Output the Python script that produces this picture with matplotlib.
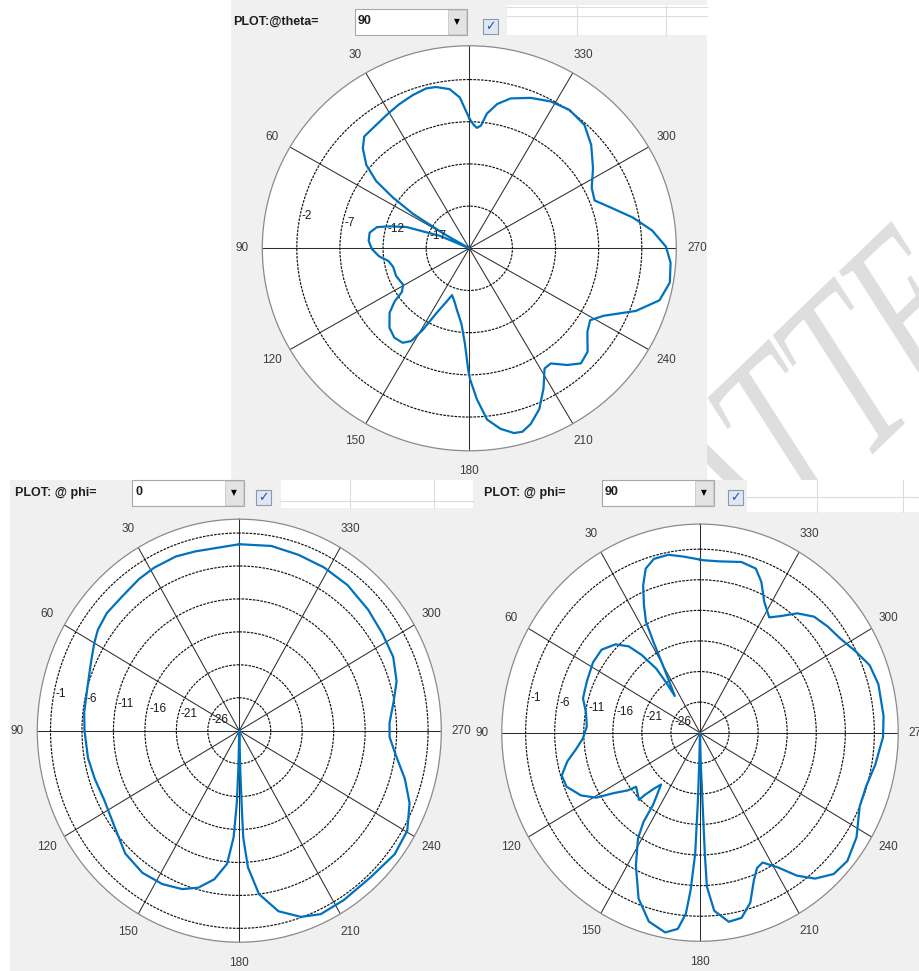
import numpy as np
import matplotlib.pyplot as plt
from matplotlib.patches import Rectangle, PathPatch
from matplotlib.lines import Line2D
from matplotlib.textpath import TextPath, TextToPath
from matplotlib.font_manager import FontProperties
from matplotlib.transforms import Affine2D, offset_copy

W, H = 919, 971

# ---- pattern cut at theta = 90 (angle in deg, gain in dB) ----
theta90_ang = [0, 3.5, 6.9, 11.4, 14.8, 19.9, 25.6, 31, 38.3, 42.6, 46.2, 50.4, 53.6,
               55.8, 58, 60, 63, 66.6, 70.9, 74.1, 76.8, 80.9, 85.7, 90.4, 95.2, 99.1,
               103.9, 111.1, 119.5, 123.6, 126, 129.6, 135.5, 140.6, 145.4, 148.5, 150.8,
               153.6, 157.2, 160.2, 165.1, 169.1, 174.2, 177.4, 179.5, 180.3, 182.8, 185.8,
               189.6, 193.3, 195.8, 198.9, 203.1, 207.4, 211.5, 214.7, 219.4, 223.5, 228.2,
               234.1, 238.7, 242.8, 249, 254.4, 260.1, 265.8, 270.5, 275.7, 280.9, 286.7,
               291.3, 296.8, 303.5, 310.9, 317.6, 324.7, 331.5, 338.2, 344.9, 349.3, 352.7,
               354.7, 356.5, 358.2, 360]
theta90_db = [-6.6, -4.1, -3.0, -2.5, -2.4, -2.7, -3.1, -3.5, -3.9, -4.0, -4.9, -6.5, -8.6,
              -11.3, -14.3, -19.0, -30, -18.3, -14.3, -12.5, -11.0, -10.3, -10.3, -10.7, -11.5,
              -12.5, -12.9, -12.9, -13.2, -12.6, -11.3, -10.0, -8.8, -8.3, -8.4, -9.1, -10.9,
              -13.4, -15.1, -16.1, -15.4, -14.5, -13.0, -10.7, -7.6, -6.5, -4.1, -1.6,
              -0.3, 0.5, 0.6, 0.0, -1.3, -3.3, -5.3, -5.4, -4.1, -3.2, -3.6,
              -5.1, -5.6, -4.5, -1.3, 0.9, 1.6, 1.4, 0.8, -0.7, -2.7, -5.0,
              -6.4, -6.1, -4.8, -3.3, -2.2, -1.9, -2.2, -2.8, -3.6, -4.6, -5.9,
              -7.4, -7.7, -7.3, -6.6]

# ---- pattern cut at phi = 0 ----
phi0_ang = [0, 6, 14.5, 20.9, 28.6, 34.6, 42.4, 49.7, 55.7, 60.1, 66.7, 75, 83.6, 90,
            99.8, 107.7, 115.9, 126.3, 135.8, 144.5, 152.3, 159.3, 164.7, 170, 174.5,
            176.8, 177.9, 178.5, 180, 181.5, 181.9, 182.2, 183.8, 187.2, 192.8, 199.1,
            204.9, 212.9, 223.2, 232.8, 240.4, 247.9, 254.5, 261.7, 267.7, 272.8, 280.1,
            286.7, 294.6, 303.1, 311.9, 322.1, 331.5, 340.6, 349.7, 360]
phi0_db = [-2.7, -3.0, -2.9, -2.7, -2.8, -3.0, -3.4, -3.4, -3.8, -4.4, -5.3, -6.0, -6.2, -6.4,
           -6.6, -6.9, -7.1, -6.4, -5.0, -4.5, -4.7, -5.3, -6.3, -8.1, -10.7,
           -14.8, -19.9, -25, -40, -25, -19.9, -14.8, -10.2, -6.0, -2.9, -1.1,
           -0.3, -0.4, -0.5, 0.0, -0.3, -1.8, -3.7, -5.9, -7.1, -7.1, -6.1,
           -4.9, -4.1, -3.9, -3.5, -3.0, -2.8, -2.7, -2.5, -2.7]

# ---- pattern cut at phi = 90 ----
phi90_ang = [0, 5.4, 10.6, 15.6, 19.2, 22.1, 24.8, 27.1, 28.4, 30.1, 35.8, 35.4, 35.7, 38.3,
             41, 45.2, 51.3, 58, 66.6, 74.4, 80.4, 87, 92.8, 97.2, 101.6, 106.4, 111,
             116.6, 120.7, 123.8, 127.2, 128.8, 136.3, 137, 139.1, 141.7, 145.6, 146.3,
             148.3, 153, 158.7, 164.1, 169.6, 173.2, 175.3, 176.4, 177.6, 178.1, 178.6,
             180, 181.4, 182.2, 182.4, 182.7, 184.8, 189.1, 193.3, 197.3, 200.8, 203.9,
             206.9, 211.2, 215.5, 219.7, 224.9, 230.4, 237.6, 246.3, 253.1, 260.1, 268.7,
             275, 284.5, 290.7, 296.4, 302.7, 308.3, 314, 319.4, 323.9, 327.7, 332.7,
             336.8, 340.3, 345.7, 353.3, 358.9, 360]
phi90_db = [-2.7, -2.1, -1.4, -1.5, -2.6, -5.0, -8.0, -10.6, -14.2, -18.3, -23.6, -20.9, -18.1,
            -14.8, -12.3, -10.5, -9.3, -9.3, -9.8, -10.1, -11.1, -11.5, -10.8, -9.5, -7.7,
            -6.2, -6.4, -8.1, -10.2, -13.3, -15.4, -16.9, -15.8, -17.1, -18.9, -20.2, -16.7,
            -13.5, -10.7, -6.7, -1.9, 1.1, 2.2, 1.3, -1.3, -5.2, -11.2, -19.4, -26.5,
            -40, -26.5, -19.4, -11.2, -5.8, -1.8, 0.3, 0.1, -1.9, -5.0, -6.8,
            -7.2, -5.3, -2.3, 0.0, 1.6, 1.9, 0.9, -1.0, -1.1, -0.4, 0.5,
            0.7, 0.7, 0.2, -1.1, -2.4, -3.0, -3.7, -5.3, -7.4, -8.7, -6.9,
            -4.2, -2.5, -2.2, -2.8, -2.8, -2.7]

top_rings = [-17, -12, -7, -2]
bottom_rings = [-26, -21, -16, -11, -6, -1]
angle_labels = list(range(30, 360, 30))

BLUE = '#0072bd'
PANEL = '#f0f0f0'


def px_rect(x0, y0, x1, y1):
    return (x0 / W, 1 - y1 / H, (x1 - x0) / W, (y1 - y0) / H)


def box(fig, x0, y0, x1, y1, z=-5, **kw):
    l, b, w, h = px_rect(x0, y0, x1, y1)
    fig.patches.append(Rectangle((l, b), w, h, transform=fig.transFigure,
                                 figure=fig, zorder=z, **kw))


def line(fig, xs, ys, **kw):
    fig.add_artist(Line2D([x / W for x in xs], [1 - y / H for y in ys],
                          transform=fig.transFigure, **kw))


def ftext(fig, x, y, s, **kw):
    fig.text(x / W, 1 - y / H, s, **kw)


def watermark(fig, word, size, stretch, slant, angle, bar_xy):
    # stretched, slanted serif word lying behind the screenshots;
    # bar_xy is where the top bar of the second letter should sit
    prop = FontProperties(family='Liberation Serif')
    path = TextPath((0, 0), word, size=size, prop=prop)
    tp = TextToPath()
    k = size / prop.get_size_in_points()
    wa = tp.get_text_width_height_descent(word[0], prop, ismath=False)[0] * k
    wt = tp.get_text_width_height_descent(word[1], prop, ismath=False)[0] * k
    m = Affine2D().scale(1, stretch).skew_deg(slant, 0).rotate_deg(angle)
    px, py = m.transform((wa + wt / 2, 0.64 * size))
    m = m.translate(bar_xy[0] - px, (H - bar_xy[1]) - py)
    fig.patches.append(PathPatch(m.transform_path(path), facecolor='#dedede',
                                 edgecolor='none', transform=None, zorder=-10,
                                 figure=fig))


def header(fig, x_lbl, label, x_dd, value, x_chk, y0, tbl, tbl_v, tbl_h):
    ftext(fig, x_lbl, y0 + 13, label, fontsize=9, fontweight='bold',
          color='#1e1e1e', va='center', ha='left', family='Liberation Sans')
    # dropdown
    box(fig, x_dd, y0, x_dd + 112, y0 + 26, z=2, facecolor='white',
        edgecolor='#a8a8a8', lw=0.8)
    box(fig, x_dd + 93, y0 + 1, x_dd + 111, y0 + 25, z=3, facecolor='#e3e3e3',
        edgecolor='#c8c8c8', lw=0.6)
    ftext(fig, x_dd + 102, y0 + 13, '\u25bc', fontsize=5.5, ha='center', va='center',
          color='black', zorder=4)
    ftext(fig, x_dd + 3, y0 + 12, value, fontsize=9, fontweight='bold', color='#1e1e1e',
          ha='left', va='center', family='Liberation Sans', zorder=4)
    # checkbox
    box(fig, x_chk, y0 + 10, x_chk + 15, y0 + 25, z=2, facecolor='#dfe7f3',
        edgecolor='#8a97ad', lw=0.8)
    ftext(fig, x_chk + 7.5, y0 + 18, '\u2713', fontsize=9, ha='center', va='center',
          color='#2b52b5', zorder=4, family='DejaVu Sans')
    # table stub
    tx0, ty0, tx1, ty1 = tbl
    box(fig, tx0, ty0, tx1, ty1, z=1, facecolor='white', edgecolor='none')
    for vx in tbl_v:
        line(fig, [vx, vx], [ty0, ty1], color='#dcdcdc', lw=0.8, zorder=2)
    for hy in tbl_h:
        line(fig, [tx0, tx1], [hy, hy], color='#dcdcdc', lw=0.8, zorder=2)


def polar_panel(fig, cx, cy, rx, ry, ang, db, rmin, rmax, rings):
    ax = fig.add_axes(px_rect(cx - rx, cy - ry, cx + rx, cy + ry), projection='polar')
    ax.set_aspect('auto')
    ax.set_theta_zero_location('N')
    ax.set_theta_direction(1)
    ax.set_facecolor('white')
    ax.set_xticks(np.deg2rad(np.arange(0, 360, 30)))
    ax.set_xticklabels([])
    ax.set_yticks(rings)
    ax.set_yticklabels([])
    ax.tick_params(length=0)
    ax.xaxis.grid(True, color='#2e2e2e', lw=0.75, ls='-')
    ax.yaxis.grid(True, color='#111111', lw=0.85, ls=(0, (2.2, 1.0)))
    ax.spines['polar'].set_color('#8a8a8a')
    ax.spines['polar'].set_linewidth(0.9)

    r = np.clip(np.array(db, dtype=float), rmin, None)
    ax.plot(np.deg2rad(ang), r, color=BLUE, lw=1.6, zorder=5)
    ax.set_ylim(rmin, rmax)

    r_lbl = rmin + 1.10 * (rmax - rmin)
    for a in angle_labels:
        ax.text(np.deg2rad(a), r_lbl, str(a), ha='center', va='center', fontsize=8.5,
                color='#3c3c3c', clip_on=False, family='Liberation Sans')
    shifted = offset_copy(ax.transData, fig=fig, x=3, y=0, units='dots')
    for rv in rings:
        ax.text(np.deg2rad(81), rv, str(rv), ha='left', va='bottom', fontsize=8.5,
                color='#1a1a1a', family='Liberation Sans', zorder=6, transform=shifted)
    return ax


fig = plt.figure(figsize=(W / 100, H / 100), dpi=100)
fig.patch.set_facecolor('white')

watermark(fig, 'ATTE', 148, 1.6, 11.2, 43.9, (752, 360))

# grey panel backgrounds
box(fig, 231, 0, 707, 480, facecolor=PANEL, edgecolor='none')
box(fig, 10, 480, 473, 971, facecolor=PANEL, edgecolor='none')
box(fig, 473, 480, 919, 971, facecolor=PANEL, edgecolor='none')

header(fig, 233, 'PLOT:@theta=', 355, '90', 483, 9,
       (507, 5, 707, 35), [577, 666], [7, 16])
header(fig, 15, 'PLOT: @ phi=', 132, '0', 256, 480,
       (281, 480, 473, 508), [350, 434], [501])
header(fig, 484, 'PLOT: @ phi=', 602, '90', 728, 480,
       (747, 480, 919, 512), [817, 903], [497])

polar_panel(fig, 469.3, 248.3, 207, 202.5, theta90_ang, theta90_db, -22, 2, top_rings)
polar_panel(fig, 239.3, 730.7, 202, 211.5, phi0_ang, phi0_db, -31, 1.1, bottom_rings)
polar_panel(fig, 700, 732.7, 198.2, 208.6, phi90_ang, phi90_db, -31, 3.1, bottom_rings)

fig.savefig('out.png', dpi=100, facecolor=fig.get_facecolor())
